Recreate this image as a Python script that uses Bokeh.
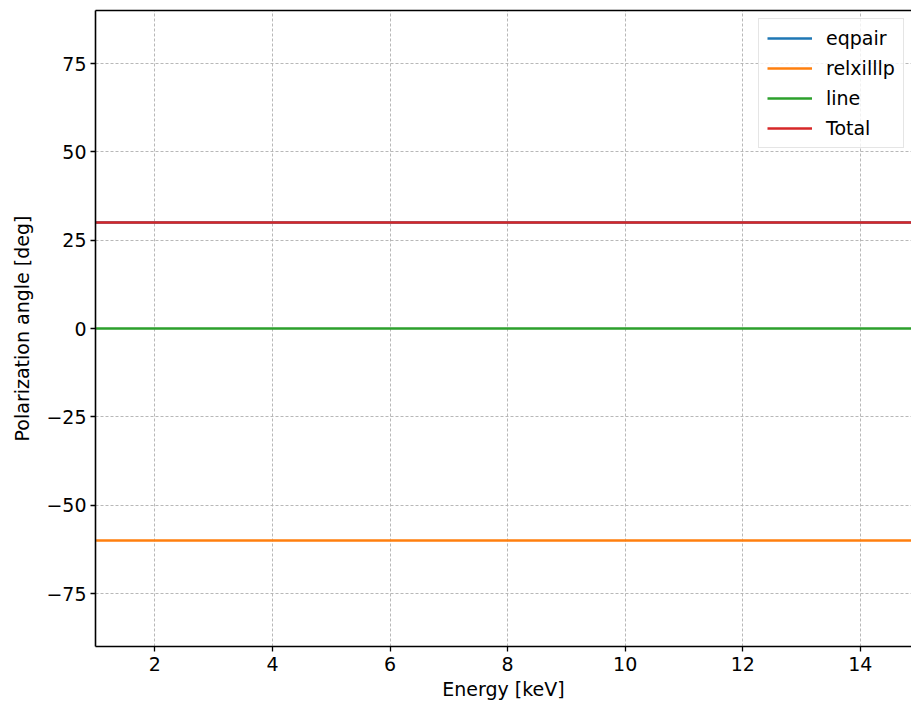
from bokeh.plotting import figure
from bokeh.models import Range1d, FixedTicker, LinearAxis, Legend, LegendItem
from bokeh.embed import file_html
from bokeh.resources import INLINE

# Energy grid [keV] and polarization angle per model component [deg]
energy = [1.0, 2.0, 4.0, 6.0, 8.0, 10.0, 12.0, 14.0, 15.0]
eqpair = [30, 30, 30, 30, 30, 30, 30, 30, 30]
relxilllp = [-60, -60, -60, -60, -60, -60, -60, -60, -60]
line = [0, 0, 0, 0, 0, 0, 0, 0, 0]
total = [30, 30, 30, 30, 30, 30, 30, 30, 30]

series_names = ["eqpair", "relxilllp", "line", "Total"]
series_values = [eqpair, relxilllp, line, total]
series_colors = ["#1f77b4", "#ff7f0e", "#2ca02c", "#d62728"]

x_ticks = [2, 4, 6, 8, 10, 12, 14]
y_ticks = [-75, -50, -25, 0, 25, 50, 75]
y_tick_labels = {t: (f"\u2212{abs(t)}" if t < 0 else str(t)) for t in y_ticks}

FONT = "DejaVu Sans"
FS = "19px"

p = figure(
    width=911, height=710,
    output_backend="svg", toolbar_location=None,
    x_range=Range1d(0.99, 14.87), y_range=Range1d(-90, 90),
    min_border_left=95, min_border_right=0,
    min_border_top=10, min_border_bottom=64,
    x_axis_label="Energy [keV]", y_axis_label="Polarization angle [deg]",
)
p.outline_line_color = None
p.background_fill_color = "white"
p.border_fill_color = "white"

for ax in (p.xaxis[0], p.yaxis[0]):
    ax.axis_line_color = "black"
    ax.axis_line_width = 1.6
    ax.major_tick_line_color = "black"
    ax.major_tick_line_width = 1.3
    ax.major_tick_out = 5
    ax.major_tick_in = 0
    ax.minor_tick_out = 0
    ax.minor_tick_in = 0
    ax.major_label_text_font = FONT
    ax.major_label_text_font_size = FS
    ax.major_label_text_color = "black"
    ax.axis_label_text_font = FONT
    ax.axis_label_text_font_size = FS
    ax.axis_label_text_font_style = "normal"
    ax.axis_label_text_color = "black"

p.xaxis[0].ticker = FixedTicker(ticks=x_ticks)
p.xaxis[0].major_label_standoff = 5
p.xaxis[0].axis_label_standoff = 4
p.yaxis[0].ticker = FixedTicker(ticks=y_ticks)
p.yaxis[0].major_label_overrides = y_tick_labels
p.yaxis[0].major_label_standoff = 4
p.yaxis[0].axis_label_standoff = 10

# top spine
top = LinearAxis(ticker=FixedTicker(ticks=[]), axis_label=None)
top.axis_line_color = "black"
top.axis_line_width = 1.6
top.major_tick_out = 0
top.major_tick_in = 0
top.minor_tick_out = 0
top.minor_tick_in = 0
top.major_label_standoff = 0
top.major_label_text_font_size = "0px"
p.add_layout(top, "above")

for g in (p.xgrid[0], p.ygrid[0]):
    g.grid_line_color = "#b0b0b0"
    g.grid_line_width = 0.9
    g.grid_line_dash = "3 2"
p.xgrid[0].ticker = FixedTicker(ticks=x_ticks)
p.ygrid[0].ticker = FixedTicker(ticks=y_ticks)

items = []
for name, vals, col in zip(series_names, series_values, series_colors):
    r = p.line(energy, vals, line_color=col, line_width=2.4)
    items.append(LegendItem(label=name, renderers=[r]))

legend = Legend(
    items=items,
    location=(663, 498),
    label_text_font=FONT, label_text_font_size=FS, label_text_color="black",
    glyph_width=45, glyph_height=20, label_height=20,
    spacing=8, padding=8, label_standoff=14, margin=0,
    border_line_color="#cccccc", border_line_width=1,
    background_fill_color="white", background_fill_alpha=0.8,
)
p.add_layout(legend, "center")

open("out.html", "w").write(file_html(p, INLINE))
